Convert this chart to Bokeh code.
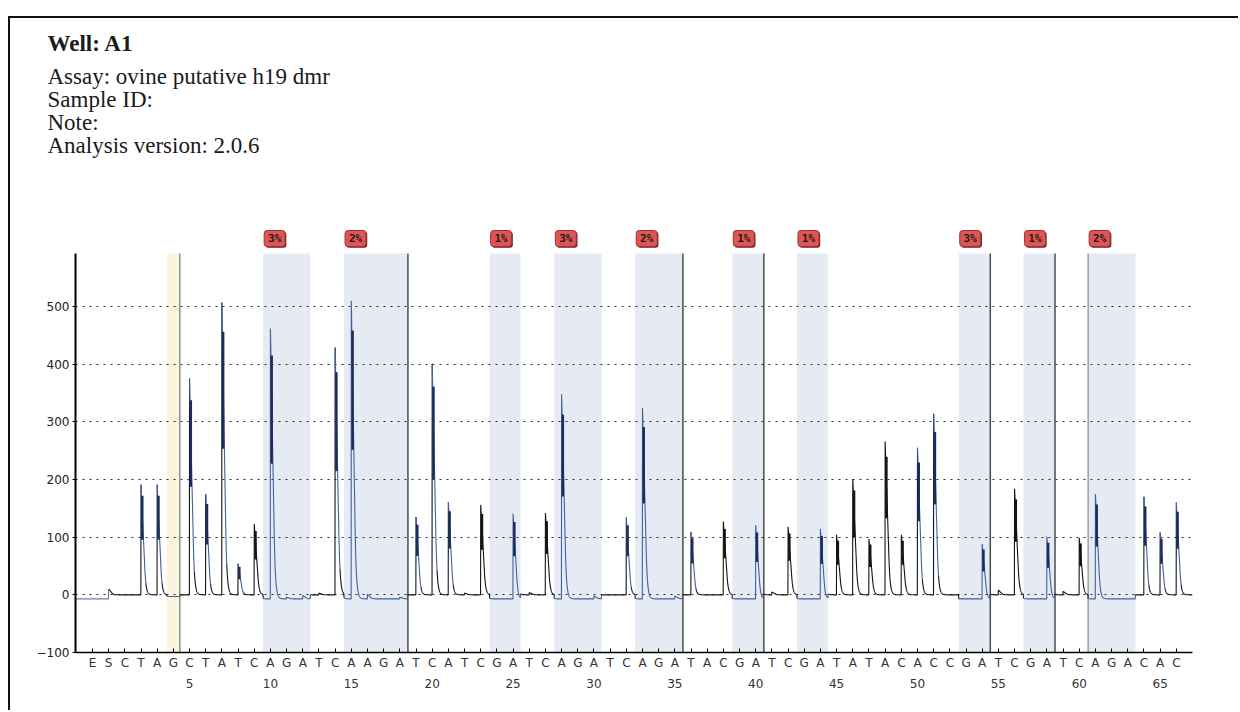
import numpy as np
from bokeh.plotting import figure
from bokeh.models import Range1d, FixedTicker, LinearAxis, BoxAnnotation, Title
from bokeh.core.properties import value
from bokeh.embed import file_html
from bokeh.resources import INLINE

# ---- data -------------------------------------------------------------
# dispensation order: enzyme, substrate, then nucleotides 1..66
dispensation = ["E", "S"] + list("CTAGCTATCAGATCAAGATCATCGATCAGATCAGATACGATCGATATACACCGATCGATCAGACAC")
positions = list(range(-1, 67))

# peak height (signal units) at each dispensation, same order as above
peak_height = [0, 10,
               0, 191, 191, 0, 375, 175, 507, 54, 123, 469,
               3, 6, 3, 429, 517, 8, 0, 3, 135, 401,
               161, 3, 156, 0, 148, 4, 142, 355, 0, 5,
               0, 134, 331, 0, 5, 109, 0, 127, 0, 128,
               5, 118, 0, 121, 104, 201, 97, 266, 104, 255,
               314, 0, 0, 95, 8, 184, 0, 108, 6, 99,
               182, 0, 0, 170, 108, 160]

# peaks drawn in black ink instead of blue
black_peaks = [9, 23, 27, 38, 42, 45, 46, 47, 48, 49, 56, 60]

# CpG sites: first / last dispensation of each variable position and methylation
site_first = [10, 15, 24, 28, 33, 39, 43, 53, 57, 61]
site_last = [12, 18, 25, 30, 35, 40, 44, 54, 58, 63]
site_pct = [3, 2, 1, 3, 2, 1, 1, 3, 1, 2]

bisulfite_control = 4
dividers_after = [18, 35, 40, 54, 58]
divider_before = 61

y_ticks = [-100, 0, 100, 200, 300, 400, 500]
number_ticks = [5, 10, 15, 20, 25, 30, 35, 40, 45, 50, 55, 60, 65]

well = "Well: A1"
details = ["Assay: ovine putative h19 dmr", "Sample ID:", "Note:", "Analysis version: 2.0.6"]

# ---- geometry (page pixels) ------------------------------------------
X0, X1 = -2.05, 67.0
Y0, Y1 = -100, 592                           # extent of the signal axis
FL, FR, FT, FB = 75, 1192, 253, 652          # signal area edges
OX, OY = 10, 18                              # top-left of the drawing area
TOP = 200                                    # frame top (room for the badges)
PX = (FR - FL) / (X1 - X0)                   # pixels per dispensation
KY = (FB - FT) / (Y1 - Y0)                   # pixels per signal unit
Y_TOP = Y1 + (FT - TOP) / KY

BLUE = "#41609f"
CORE = "#1c2c62"
INK = "#141414"

# ---- trace -------------------------------------------------------------
xs = np.arange(int(round(X0 * 100)), int(round(X1 * 100)) + 1) / 100.0
band_l = [f - 0.45 for f in site_first]
band_r = [l + 0.47 for l in site_last]


def in_bands(x):
    m = np.zeros_like(x, dtype=bool)
    for a, b in zip(band_l, band_r):
        m |= (x >= a) & (x < b)
    return m


blue_mask = in_bands(xs)
yel_mask = (xs >= bisulfite_control - 0.4) & (xs < bisulfite_control + 0.4)

base = np.zeros_like(xs)
base[blue_mask] = -7
base[yel_mask] = -3
base[xs < 0] = -7


def profile(t):
    t = t * PX
    out = np.zeros_like(t)
    a = (t >= -1e-6) & (t < 0.5)
    b = (t >= 0.5) & (t < 2.5)
    c = (t >= 2.5) & (t < 3.5)
    d = t >= 3.5
    out[a] = 1 - 0.2 * t[a]
    out[b] = 0.9 - 0.2 * (t[b] - 0.5)
    out[c] = 0.5 - 0.2 * (t[c] - 2.5)
    out[d] = 0.3 * np.exp(-(t[d] - 3.5) / 1.3)
    return out


ys = base.copy()
for pos, hgt in zip(positions, peak_height):
    if hgt > 0:
        ys += hgt * profile(xs - pos)

# colour of each small step of the trace
colors = np.where(blue_mask | yel_mask, BLUE, INK).astype(object)
colors[xs < 0] = "#6f7ea6"
for pos, hgt in zip(positions, peak_height):
    if hgt > 20:
        m = (xs >= pos - 1e-6) & (xs < pos + 0.3)
        colors[m] = INK if pos in black_peaks else BLUE

seg_x, seg_y, seg_c = [], [], []
start = 0
for i in range(1, len(xs)):
    if i == len(xs) - 1 or colors[i] != colors[start]:
        seg_x.append(list(xs[start:i + 1]))
        seg_y.append(list(ys[start:i + 1]))
        seg_c.append(colors[start])
        start = i

# ---- figure ------------------------------------------------------------
p = figure(width=1240 - OX, height=712 - OY, output_backend="svg", toolbar_location=None,
           title=None, x_range=Range1d(X0, X1), y_range=Range1d(Y0, Y_TOP),
           min_border_left=FL - OX, min_border_right=1240 - FR,
           min_border_top=TOP - OY, min_border_bottom=712 - FB)
p.styles = {"margin-left": "8px", "margin-top": "16px",
            "border-left": "2px solid #111", "border-top": "2px solid #111"}
p.outline_line_color = None

# header block: details first (nearest the plot), well name stacked above
p.add_layout(Title(text="\n".join(details), align="left", offset=-(FL - 47),
                   text_font="Liberation Serif", text_font_size="23px",
                   text_font_style="normal", text_color="#1a1a1a",
                   text_line_height=0.92, standoff=86), "above")
p.add_layout(Title(text=well, align="left", offset=-(FL - 47),
                   text_font="Liberation Serif", text_font_size="23px",
                   text_font_style="bold", text_color="#1a1a1a", standoff=-75), "above")

# shaded CpG regions and bisulfite control
p.add_layout(BoxAnnotation(left=bisulfite_control - 0.4, right=bisulfite_control + 0.4,
                           bottom=Y0, top=Y1, fill_color="#faf5dc", fill_alpha=1,
                           line_color=None, level="image"))
for a, b in zip(band_l, band_r):
    p.add_layout(BoxAnnotation(left=a, right=b, bottom=Y0, top=Y1, fill_color="#e6ebf3",
                               fill_alpha=1, line_color=None, level="image"))

# grid
p.xgrid.visible = False
p.ygrid.ticker = FixedTicker(ticks=[t for t in y_ticks if t >= 0])
p.ygrid.grid_line_color = "#2a2a2a"
p.ygrid.grid_line_dash = "2 5"
p.ygrid.grid_line_width = 1

# divider lines
div_x = [bisulfite_control + 0.4] + [d + 0.5 for d in dividers_after] + [divider_before - 0.45]
div_c = ["#8c8c8c"] + ["#4a4a4a"] * len(dividers_after) + ["#a0a0a0"]
p.segment(x0=div_x, y0=[Y0] * len(div_x), x1=div_x, y1=[Y1] * len(div_x),
          line_color=div_c, line_width=1.5)

# trace
p.multi_line(seg_x, seg_y, line_color=seg_c, line_width=1.1)

# dark cores of the peaks
core_pos = [q for q, v in zip(positions, peak_height) if v > 20]
core_h = [v for v in peak_height if v > 20]
core_base = [float(base[np.argmin(abs(xs - q))]) for q in core_pos]
p.quad(left=core_pos, right=[q + 2.5 / PX for q in core_pos],
       bottom=[b + 0.5 * v for b, v in zip(core_base, core_h)],
       top=[b + 0.9 * v for b, v in zip(core_base, core_h)],
       fill_color=[INK if q in black_peaks else CORE for q in core_pos],
       line_color=None)

# methylation badges above each CpG region
badge_x = [a + 11.5 / PX for a in band_l]
badge_y = Y1 + (FT - 238) / KY
p.rect(x=[bx + 1.2 / PX for bx in badge_x], y=[badge_y - 1.2 / KY] * len(badge_x),
       width=21, height=16, width_units="screen", height_units="screen",
       fill_color="#6e1e1e", line_color=None, border_radius=3)
p.rect(x=badge_x, y=[badge_y] * len(badge_x), width=21, height=16,
       width_units="screen", height_units="screen",
       fill_color="#e05454", line_color="#9a3434", line_width=1, border_radius=3)
p.text(x=badge_x, y=[badge_y] * len(badge_x), text=[f"{v}%" for v in site_pct],
       text_font=value("DejaVu Sans Mono"), text_font_size="11px", text_font_style="bold",
       text_color="#1a1a1a", text_align="center", text_baseline="middle")

# axes
p.yaxis.ticker = FixedTicker(ticks=y_ticks)
p.yaxis.bounds = (Y0, Y1)
p.yaxis.axis_line_color = "black"
p.yaxis.axis_line_width = 2
p.yaxis.major_tick_out = 3
p.yaxis.major_tick_in = 0
p.yaxis.minor_tick_line_color = None
p.yaxis.major_label_text_font = "DejaVu Sans"
p.yaxis.major_label_text_font_size = "12px"
p.yaxis.major_label_text_color = "#222"
p.yaxis.major_label_standoff = 3

p.xaxis.ticker = FixedTicker(ticks=positions)
p.xaxis.major_label_overrides = {q: s for q, s in zip(positions, dispensation)}
p.xaxis.axis_line_color = "black"
p.xaxis.axis_line_width = 1.5
p.xaxis.major_tick_in = 4
p.xaxis.major_tick_out = 0
p.xaxis.minor_tick_line_color = None
p.xaxis.major_label_text_font = "DejaVu Sans"
p.xaxis.major_label_text_font_size = "12px"
p.xaxis.major_label_text_color = "#333"
p.xaxis.major_label_standoff = 3

num_axis = LinearAxis(ticker=FixedTicker(ticks=number_ticks), axis_line_color=None,
                      major_tick_line_color=None, minor_tick_line_color=None,
                      major_label_text_font="DejaVu Sans", major_label_text_font_size="12px",
                      major_label_text_color="#333", major_label_standoff=0)
p.add_layout(num_axis, "below")

open("out.html", "w").write(file_html(p, INLINE))
